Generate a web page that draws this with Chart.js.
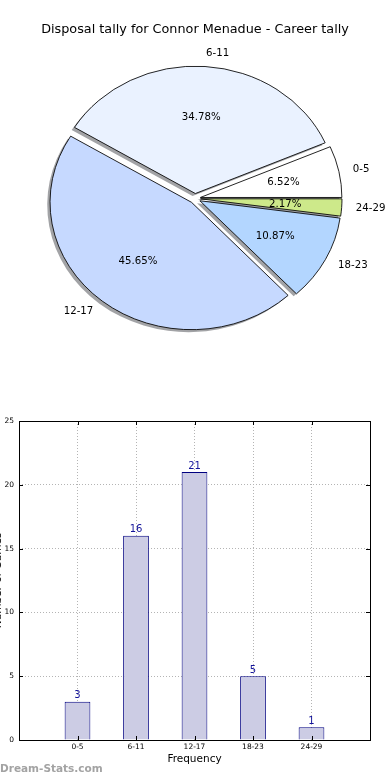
<!DOCTYPE html>
<html>
<head>
<meta charset="utf-8">
<script src="https://cdn.jsdelivr.net/npm/chart.js@4.4.0/dist/chart.umd.min.js"></script>
<style>
  html, body { margin: 0; padding: 0; background: #fff; width: 390px; height: 780px; overflow: hidden; }
  body { position: relative; font-family: "DejaVu Sans", sans-serif; }
  #pie { position: absolute; left: 0; top: 0; }
  #bars { position: absolute; left: 0; top: 400px; }
  #mark { position: absolute; left: 0; top: 762px; font: bold 10.5px "DejaVu Sans", sans-serif; color: #a3a3a3; }
</style>
</head>
<body>
<canvas id="pie" width="390" height="390"></canvas>
<canvas id="bars" width="390" height="380"></canvas>
<div id="mark">Dream-Stats.com</div>
<script>
const chartTitle = 'Disposal tally for Connor Menadue - Career tally';
const categories = ['0-5', '6-11', '12-17', '18-23', '24-29'];
const tally = [3, 16, 21, 5, 1];
const sliceColors = ['#ffffff', '#eaf2ff', '#c6d9ff', '#b3d6ff', '#cde98a'];
const yTicks = [0, 5, 10, 15, 20, 25];
const xTitle = 'Frequency';
const yTitle = 'Number of Games';

const FONT = '"DejaVu Sans", sans-serif';
const total = tally.reduce((a, b) => a + b, 0);

// matplotlib pie goes counter-clockwise from 3 o'clock, chart.js goes clockwise,
// so feed the slices in reverse order
const pieLabels = categories.slice().reverse();
const pieValues = tally.slice().reverse();
const pieColors = sliceColors.slice().reverse();

const explode = 5.5;   // px each slice is pushed out
const squash = 0.9;    // the reference pie is a bit flatter than it is wide

function squashAround(ctx, a) {
    ctx.translate(a.x, a.y);
    ctx.scale(1, squash);
    ctx.translate(-a.x, -a.y);
}

const mplPie = {
    id: 'mplPie',
    beforeDatasetDraw(chart, args) {
        const ctx = chart.ctx;
        const arcs = args.meta.data;
        // shadows underneath everything
        arcs.forEach(a => {
            const mid = (a.startAngle + a.endAngle) / 2;
            const o = a.options;
            ctx.save();
            squashAround(ctx, a);
            ctx.translate(Math.cos(mid) * explode - 2.8, Math.sin(mid) * explode + 2.8);
            a.options = Object.assign({}, o, { backgroundColor: 'rgba(70,72,77,0.5)', borderWidth: 0 });
            a.draw(ctx);
            a.options = o;
            ctx.restore();
        });
        arcs.forEach(a => {
            const mid = (a.startAngle + a.endAngle) / 2;
            ctx.save();
            squashAround(ctx, a);
            ctx.translate(Math.cos(mid) * explode, Math.sin(mid) * explode);
            a.draw(ctx);
            ctx.restore();
        });
        return false;
    },
    afterDraw(chart) {
        const ctx = chart.ctx;
        const arcs = chart.getDatasetMeta(0).data;
        ctx.save();
        ctx.fillStyle = '#000';
        ctx.font = '10.2px ' + FONT;
        ctx.textBaseline = 'middle';
        arcs.forEach((a, i) => {
            const mid = (a.startAngle + a.endAngle) / 2;
            const c = Math.cos(mid), s = Math.sin(mid);
            const r = a.outerRadius;
            const ox = c * explode, oy = s * explode;
            ctx.textAlign = c > 0 ? 'left' : 'right';
            ctx.fillText(pieLabels[i], a.x + ox + 1.1 * r * c, a.y + (oy + 1.1 * r * s) * squash);
            ctx.textAlign = 'center';
            const pct = (pieValues[i] / total * 100).toFixed(2) + '%';
            ctx.fillText(pct, a.x + ox + 0.6 * r * c, a.y + (oy + 0.6 * r * s) * squash);
        });
        ctx.restore();
    }
};

new Chart(document.getElementById('pie'), {
    type: 'pie',
    data: {
        labels: pieLabels,
        datasets: [{
            data: pieValues,
            backgroundColor: pieColors,
            borderColor: '#000',
            borderWidth: 0.9,
            radius: 141.5
        }]
    },
    options: {
        responsive: false,
        animation: false,
        rotation: 90,
        radius: 141.5,
        layout: { padding: { top: 0, bottom: 40.4, left: 0, right: 0 } },
        plugins: {
            legend: { display: false },
            tooltip: { enabled: false },
            title: {
                display: true,
                text: chartTitle,
                color: '#000',
                font: { family: FONT, size: 12.8, weight: 'normal' },
                padding: { top: 22, bottom: 10 }
            }
        }
    },
    plugins: [mplPie]
});

// ---- bar chart ----
const barExtras = {
    id: 'barExtras',
    afterDraw(chart) {
        const ctx = chart.ctx;
        const { left, right, top, bottom } = chart.chartArea;
        const xs = chart.scales.x, ys = chart.scales.y;
        ctx.save();
        // value labels
        ctx.fillStyle = '#14149a';
        ctx.font = '10px ' + FONT;
        ctx.textAlign = 'center';
        ctx.textBaseline = 'bottom';
        chart.getDatasetMeta(0).data.forEach((b, i) => {
            ctx.fillText(String(tally[i]), b.x, b.y - 1);
        });
        // frame
        ctx.strokeStyle = '#000';
        ctx.lineWidth = 1;
        ctx.strokeRect(Math.round(left) + 0.5, Math.round(top) + 0.5, Math.round(right - left), Math.round(bottom - top));
        // inward tick marks on all four sides
        ctx.beginPath();
        yTicks.forEach(v => {
            const y = Math.round(ys.getPixelForValue(v)) + 0.5;
            ctx.moveTo(left, y); ctx.lineTo(left + 4, y);
            ctx.moveTo(right, y); ctx.lineTo(right - 4, y);
        });
        categories.forEach((c, i) => {
            const x = Math.round(xs.getPixelForValue(i)) + 0.5;
            ctx.moveTo(x, bottom); ctx.lineTo(x, bottom - 4);
            ctx.moveTo(x, top); ctx.lineTo(x, top + 4);
        });
        ctx.stroke();
        // y title, mostly cut off by the left edge as in the reference
        ctx.translate(0.5, (top + bottom) / 2);
        ctx.rotate(-Math.PI / 2);
        ctx.fillStyle = '#000';
        ctx.font = '10.5px ' + FONT;
        ctx.textAlign = 'center';
        ctx.textBaseline = 'alphabetic';
        ctx.fillText(yTitle, 0, 0);
        ctx.restore();
    }
};

new Chart(document.getElementById('bars'), {
    type: 'bar',
    data: {
        datasets: [{
            data: categories.map((c, i) => ({ x: i, y: tally[i] })),
            backgroundColor: '#ccccE4',
            borderColor: '#000080',
            borderWidth: 1,
            barPercentage: 0.44,
            categoryPercentage: 1
        }]
    },
    options: {
        responsive: false,
        animation: false,
        layout: { padding: { top: 21, right: 20, left: 0, bottom: 0 } },
        plugins: { legend: { display: false }, tooltip: { enabled: false } },
        scales: {
            x: {
                type: 'linear',
                min: -1,
                max: 5,
                offset: false,
                z: 1,
                afterFit(s) { s.height = 40; },
                afterBuildTicks(s) { s.ticks = categories.map((c, i) => ({ value: i })); },
                ticks: {
                    callback: v => categories[v],
                    color: '#000',
                    font: { family: FONT, size: 7.5 },
                    padding: 3,
                    maxRotation: 0,
                    autoSkip: false
                },
                grid: { color: '#b4b4b4', lineWidth: 1, drawTicks: false, offset: false, borderDash: [1, 2] },
                border: { display: false, dash: [1, 2] },
                title: {
                    display: true,
                    text: xTitle,
                    color: '#000',
                    font: { family: FONT, size: 10.5 },
                    padding: { top: 0, bottom: 14 }
                }
            },
            y: {
                min: 0,
                max: 25,
                z: 1,
                afterFit(s) { s.width = 19; },
                afterBuildTicks(s) { s.ticks = yTicks.map(v => ({ value: v })); },
                ticks: {
                    color: '#000',
                    font: { family: FONT, size: 7.5 },
                    padding: 5
                },
                grid: { color: '#b4b4b4', lineWidth: 1, drawTicks: false, offset: false, borderDash: [1, 2] },
                border: { display: false, dash: [1, 2] }
            }
        }
    },
    plugins: [barExtras]
});
</script>
</body>
</html>
